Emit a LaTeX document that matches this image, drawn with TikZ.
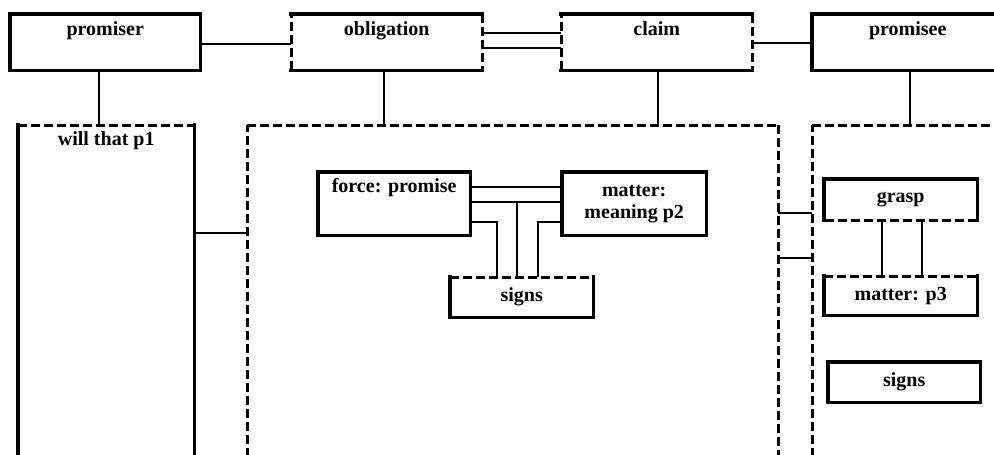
\documentclass[tikz,border=0pt]{standalone}
\usepackage{fontspec}
\setmainfont{Liberation Serif}
\newcommand\boxsides[5]{%
  \draw[#2] (#1.north west) -- (#1.north east);
  \draw[#3] (#1.north east) -- (#1.south east);
  \draw[#4] (#1.south east) -- (#1.south west);
  \draw[#5] (#1.south west) -- (#1.north west);}
\tikzset{
  every node/.style={font=\fontsize{20}{23}\selectfont\bfseries, inner sep=0pt},
  bx/.style={rectangle, anchor=north west},
  sol/.style={line width=3.4pt, line cap=rect},
  dsh/.style={line width=3pt, dash pattern=on 9pt off 4pt},
  con/.style={line width=2pt},
  nod/.style={draw=none},
}
\begin{document}
\begin{tikzpicture}[x=1pt,y=-1pt]
\useasboundingbox (0,0) rectangle (994,455);
\clip (0,0) rectangle (994,455);
% top row
\node[bx, minimum width=190pt, text height=21pt, text depth=35pt] (prom) at (10,14) {promiser};
\node[bx, minimum width=191pt, text height=21pt, text depth=35pt] (obl) at (291,14) {obligation};
\node[bx, minimum width=191pt, text height=21pt, text depth=35pt] (clm) at (561,14) {claim};
\node[bx, minimum width=191pt, text height=21pt, text depth=35pt] (pee) at (812,14) {promisee};
\boxsides{prom}{sol}{sol}{sol}{sol}
\boxsides{obl}{sol}{dsh}{sol}{dsh}
\boxsides{clm}{sol}{dsh}{sol}{dsh}
\boxsides{pee}{sol}{sol}{sol}{sol}
% big boxes
\node[bx, minimum width=176pt, text height=20pt, text depth=325pt] (will) at (18,125) {will that p1};
\node[bx, minimum width=531pt, minimum height=345pt] (mid) at (247,125) {};
\node[bx, minimum width=200pt, minimum height=345pt] (rb) at (812,125) {};
\boxsides{will}{dsh}{sol}{nod}{sol}
\boxsides{mid}{dsh}{dsh}{nod}{dsh}
\boxsides{rb}{dsh}{dsh}{nod}{dsh}
% inner middle
\node[bx, minimum width=152pt, text height=20pt, text depth=43pt] (force) at (318,172) {force: promise};
\node[bx, minimum width=144pt, minimum height=63pt, align=center] (mat) at (562,172) {matter:\\[-1pt]meaning p2};
\node[bx, minimum width=143pt, minimum height=40pt] (sgm) at (450,277) {signs};
\boxsides{force}{sol}{sol}{sol}{sol}
\boxsides{mat}{sol}{sol}{sol}{sol}
\boxsides{sgm}{dsh}{sol}{sol}{sol}
% inner right
\node[bx, minimum width=153pt, minimum height=41pt] (grasp) at (824,179) {grasp};
\node[bx, minimum width=153pt, minimum height=39pt] (mp3) at (824,276) {matter: p3};
\node[bx, minimum width=152pt, minimum height=40pt] (sgr) at (828,362) {signs};
\boxsides{grasp}{sol}{sol}{dsh}{sol}
\boxsides{mp3}{dsh}{sol}{sol}{sol}
\boxsides{sgr}{sol}{sol}{sol}{sol}
% connectors top
\draw[con] ([yshift=-2pt]prom.east) -- ([yshift=-2pt]obl.west);
\draw[con] ([yshift=9pt]obl.east) -- ([yshift=9pt]clm.west);
\draw[con] ([yshift=-6pt]obl.east) -- ([yshift=-6pt]clm.west);
\draw[con] ([yshift=-1pt]clm.east) -- ([yshift=-1pt]pee.west);
\draw[con] ([xshift=-6pt]prom.south) -- ([xshift=-6pt]prom.south |- will.north);
\draw[con] ([xshift=-2.5pt]obl.south) -- ([xshift=-2.5pt]obl.south |- mid.north);
\draw[con] ([xshift=1.5pt]clm.south) -- ([xshift=1.5pt]clm.south |- mid.north);
\draw[con] ([xshift=2.5pt]pee.south) -- ([xshift=2.5pt]pee.south |- rb.north);
% connectors between big boxes
\draw[con] ([yshift=-108pt]will.north east) -- ([yshift=-108pt]mid.north west);
\draw[con] ([yshift=-88pt]mid.north east) -- ([yshift=-88pt]rb.north west);
\draw[con] ([yshift=-133pt]mid.north east) -- ([yshift=-133pt]rb.north west);
% inner middle connectors
\draw[con] ([yshift=-15pt]force.north east) -- ([yshift=-15pt]mat.north west);
\draw[con] ([yshift=-30pt]force.north east) -- ([yshift=-30pt]mat.north west);
\draw[con] ([xshift=-4.5pt]sgm.north) |- ([yshift=-30pt]force.north east);
\draw[con] ([yshift=-50pt]force.north east) -| ([xshift=-24.5pt]sgm.north);
\draw[con] ([yshift=-50pt]mat.north west) -| ([xshift=16.5pt]sgm.north);
% inner right connectors
\draw[con] ([xshift=-18.5pt]grasp.south) -- ([xshift=-18.5pt]mp3.north);
\draw[con] ([xshift=21.5pt]grasp.south) -- ([xshift=21.5pt]mp3.north);
\end{tikzpicture}
\end{document}
